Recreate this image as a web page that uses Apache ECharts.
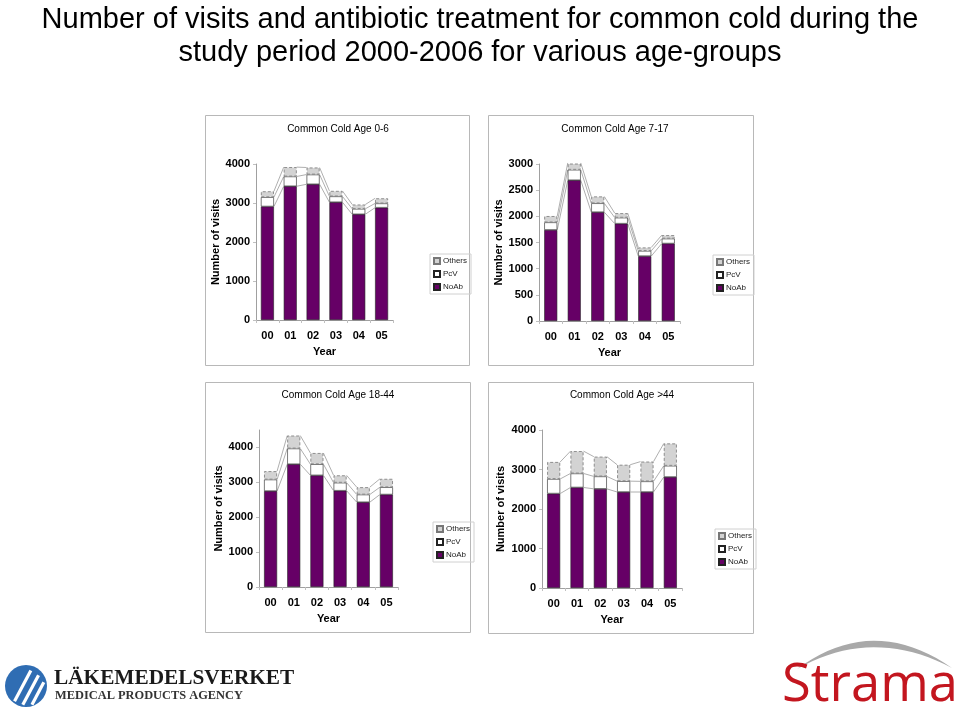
<!DOCTYPE html>
<html>
<head>
<meta charset="utf-8">
<script src="https://cdn.jsdelivr.net/npm/echarts@6/dist/echarts.min.js"></script>
<style>
html,body{margin:0;padding:0;background:#fff;}
#chart{width:960px;height:709px;}
</style>
</head>
<body>
<div id="chart"></div>
<script>
// ---- data ----
const categories = ['00', '01', '02', '03', '04', '05'];
const seriesNames = ['NoAb', 'PcV', 'Others'];
const legendOrder = ['Others', 'PcV', 'NoAb'];

const panelTitles = ['Common Cold Age 0-6', 'Common Cold Age 7-17', 'Common Cold Age 18-44', 'Common Cold Age >44'];

const noAb_0_6   = [2910, 3430, 3480, 3020, 2710, 2880];
const pcv_0_6    = [240, 250, 250, 150, 140, 110];
const others_0_6 = [150, 240, 180, 140, 110, 130];

const noAb_7_17   = [1740, 2690, 2080, 1860, 1240, 1480];
const pcv_7_17    = [145, 200, 170, 115, 100, 95];
const others_7_17 = [120, 130, 130, 85, 65, 65];

const noAb_18_44   = [2750, 3520, 3200, 2760, 2430, 2650];
const pcv_18_44    = [330, 450, 320, 230, 220, 210];
const others_18_44 = [240, 370, 320, 210, 210, 240];

const noAb_45   = [2390, 2545, 2510, 2430, 2430, 2810];
const pcv_45    = [370, 355, 315, 275, 270, 285];
const others_45 = [430, 565, 500, 415, 500, 565];

const yMax = [4000, 3000, 4500, 4000];
const yInterval = [1000, 500, 1000, 1000];

const mainTitle = 'Number of visits and antibiotic treatment for common cold during the\nstudy period 2000-2006 for various age-groups';

// ---- layout ----
const panels = [
  {data: [noAb_0_6, pcv_0_6, others_0_6], grid: {left: 256, top: 164, width: 137, height: 156}, box: [205, 115, 264, 250], title: [338, 129], legend: [430, 254], nameGap: 32},
  {data: [noAb_7_17, pcv_7_17, others_7_17], grid: {left: 539, top: 164, width: 141, height: 157}, box: [488, 115, 265, 250], title: [615, 129], legend: [713, 255], nameGap: 33},
  {data: [noAb_18_44, pcv_18_44, others_18_44], grid: {left: 259, top: 430, width: 139, height: 157}, box: [205, 382, 265, 250], title: [338, 395], legend: [433, 522], nameGap: 35},
  {data: [noAb_45, pcv_45, others_45], grid: {left: 542, top: 430, width: 140, height: 158}, box: [488, 382, 265, 251], title: [622, 395], legend: [715, 529], nameGap: 36}
];

const FONT = 'Liberation Sans, Arial, sans-serif';
const barW = 13;
const styles = [
  {color: '#660066', borderColor: '#222', borderWidth: 0.6},
  {color: '#ffffff', borderColor: '#222', borderWidth: 0.6},
  {color: '#d3d3d3', borderColor: '#777', borderWidth: 0.8, borderType: [3, 2]}
];

const grids = [], xAxes = [], yAxes = [], series = [], legends = [], graphics = [];

panels.forEach((p, k) => {
  grids.push(Object.assign({containLabel: false}, p.grid));
  xAxes.push({
    type: 'category', gridIndex: k, data: categories,
    name: 'Year', nameLocation: 'middle', nameGap: 26,
    nameTextStyle: {fontFamily: FONT, fontSize: 11, fontWeight: 'bold', color: '#000'},
    axisLine: {lineStyle: {color: '#a0a0a0', width: 1}},
    axisTick: {show: true, length: 3, lineStyle: {color: '#c0c0c0'}},
    axisLabel: {fontFamily: FONT, fontSize: 11, fontWeight: 'bold', color: '#000', margin: 10}
  });
  yAxes.push({
    type: 'value', gridIndex: k, min: 0, max: yMax[k], interval: yInterval[k],
    name: 'Number of visits', nameLocation: 'middle', nameGap: p.nameGap,
    nameTextStyle: {fontFamily: FONT, fontSize: 11, fontWeight: 'bold', color: '#000'},
    axisLine: {show: true, lineStyle: {color: '#a0a0a0', width: 1}},
    axisTick: {show: true, length: 3, lineStyle: {color: '#c0c0c0'}},
    splitLine: {show: false},
    axisLabel: {fontFamily: FONT, fontSize: 11, fontWeight: 'bold', color: '#000', margin: 6,
      showMaxLabel: k !== 2, formatter: v => String(v)}
  });
  p.data.forEach((arr, s) => {
    series.push({
      type: 'bar', name: seriesNames[s], xAxisIndex: k, yAxisIndex: k,
      stack: 'st' + k, data: arr, barWidth: barW, z: 3,
      itemStyle: styles[s], emphasis: {disabled: true}, animation: false
    });
  });
  const c1 = p.data[0];
  const c2 = p.data[0].map((v, i) => v + p.data[1][i]);
  const c3 = c2.map((v, i) => v + p.data[2][i]);
  const slData = [];
  for (let i = 0; i < categories.length - 1; i++) {
    slData.push([i, c1[i], c1[i + 1], c2[i], c2[i + 1], c3[i], c3[i + 1]]);
  }
  series.push({
    type: 'custom', name: 'series-lines', xAxisIndex: k, yAxisIndex: k, z: 2, silent: true,
    encode: {x: 0, y: [1, 2, 3, 4, 5, 6]},
    data: slData, animation: false,
    renderItem: function (params, api) {
      const i = api.value(0);
      const children = [];
      for (let j = 0; j < 3; j++) {
        const a = api.coord([i, api.value(1 + 2 * j)]);
        const b = api.coord([i + 1, api.value(2 + 2 * j)]);
        children.push({
          type: 'line',
          shape: {x1: a[0] + barW / 2, y1: a[1], x2: b[0] - barW / 2, y2: b[1]},
          style: {stroke: '#9a9a9a', lineWidth: 0.8}
        });
      }
      return {type: 'group', children: children};
    }
  });
  legends.push({
    data: legendOrder, orient: 'vertical', left: p.legend[0], top: p.legend[1],
    icon: 'rect', itemWidth: 6, itemHeight: 6, itemGap: 5, padding: [3, 4, 3, 3],
    borderColor: '#d0d0d0', borderWidth: 1, selectedMode: false,
    textStyle: {fontFamily: FONT, fontSize: 8, color: '#222', padding: [0, 0, 0, -2]}
  });
  graphics.push({
    type: 'rect', shape: {x: p.box[0] + 0.5, y: p.box[1] + 0.5, width: p.box[2], height: p.box[3]},
    style: {fill: 'none', stroke: '#b8b8b8', lineWidth: 1}, z: 0, silent: true
  });
  graphics.push({
    type: 'text', x: p.title[0], y: p.title[1],
    style: {text: panelTitles[k], fontFamily: FONT, fontSize: 10, fill: '#000', align: 'center', verticalAlign: 'middle'}
  });
});

// ---- logos ----
graphics.push({type: 'circle', shape: {cx: 26, cy: 686, r: 21}, style: {fill: '#2f6db3'}, silent: true});
(function () {
  const cx = 26, cy = 686, r = 21;
  const ang = -62 * Math.PI / 180;
  const dx = Math.cos(ang), dy = Math.sin(ang);
  const nx = -dy, ny = dx;
  [-3, 6, 14].forEach(d => {
    const h = Math.sqrt(Math.max(0, r * r - d * d)) - 2;
    const mx = cx + nx * d, my = cy + ny * d;
    graphics.push({type: 'line', shape: {x1: mx - dx * h, y1: my - dy * h, x2: mx + dx * h * 0.85, y2: my + dy * h * 0.85},
      style: {stroke: '#ffffff', lineWidth: 3.2}, silent: true});
  });
})();
graphics.push({type: 'text', x: 54, y: 689, style: {text: 'LÄKEMEDELSVERKET', fontFamily: 'Liberation Serif, DejaVu Serif, serif', fontSize: 21.3, fontWeight: 'bold', fill: '#1a1a1a', verticalAlign: 'bottom'}});
graphics.push({type: 'text', x: 55, y: 702, style: {text: 'MEDICAL PRODUCTS AGENCY', fontFamily: 'Liberation Serif, DejaVu Serif, serif', fontSize: 12.4, fontWeight: 'bold', fill: '#333', verticalAlign: 'bottom'}});
(function () {
  const pts = [];
  const q = (p0, c, p1, t) => [(1 - t) * (1 - t) * p0[0] + 2 * (1 - t) * t * c[0] + t * t * p1[0], (1 - t) * (1 - t) * p0[1] + 2 * (1 - t) * t * c[1] + t * t * p1[1]];
  const A = [797, 669], B = [952, 668];
  for (let t = 0; t <= 1.0001; t += 0.05) pts.push(q(A, [873, 613], B, t));
  for (let t = 0; t <= 1.0001; t += 0.05) pts.push(q(B, [873, 626], A, t));
  graphics.push({type: 'polygon', shape: {points: pts}, style: {fill: '#a9a9a9'}, silent: true});
})();
graphics.push({type: 'text', x: 782, y: 713, style: {text: 'Strama', fontFamily: 'Open Sans, Noto Sans, sans-serif', fontSize: 52.5, fill: '#c3161f', verticalAlign: 'bottom'}});

const option = {
  backgroundColor: '#ffffff',
  animation: false,
  title: {
    text: mainTitle, left: 'center', top: -2,
    textStyle: {fontFamily: FONT, fontSize: 29, fontWeight: 'normal', color: '#000', lineHeight: 33}
  },
  grid: grids, xAxis: xAxes, yAxis: yAxes, legend: legends, series: series,
  graphic: graphics
};

const chart = echarts.init(document.getElementById('chart'), null, {renderer: 'canvas'});
chart.setOption(option);
</script>
</body>
</html>
